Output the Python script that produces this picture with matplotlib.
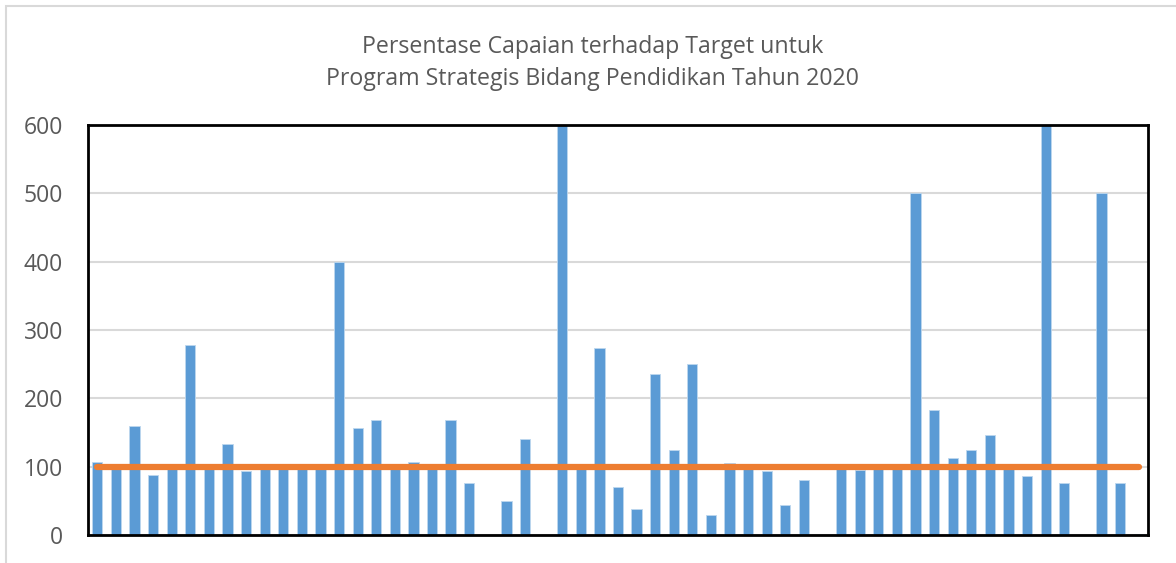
import matplotlib.pyplot as plt
import numpy as np
from matplotlib.patches import Rectangle

# Persentase capaian per program (57 program, beberapa kosong)
program_idx = list(range(1, 58))
capaian = [
    107, 100, 160, 88, 100, 278, 100, 133, 93, 100,
    100, 100, 100, 400, 157, 168, 100, 107, 100, 168,
    76, 0, 50, 140, 0, 600, 99, 273, 70, 38,
    235, 125, 250, 30, 106, 100, 94, 44, 81, 0,
    98, 95, 100, 100, 500, 183, 112, 125, 147, 100,
    86, 600, 76, 0, 500, 76, 2,
]
target = [100] * len(program_idx)
y_ticks = [0, 100, 200, 300, 400, 500, 600]

plt.rcParams['font.family'] = ['Open Sans', 'DejaVu Sans']

fig = plt.figure(figsize=(11.76, 5.63), dpi=100)
ax = fig.add_axes([0.0748, 0.0497, 0.9014, 0.7283])

x = np.arange(len(program_idx))
ax.bar(x, capaian, width=0.55, color='#5B9BD5', edgecolor='#BDD7EE',
       linewidth=0.6, zorder=2)
ax.plot(x, target, color='#ED7D31', linewidth=4.5, solid_capstyle='round',
        zorder=3)

ax.set_xlim(-0.5, len(program_idx) - 0.5)
ax.set_ylim(0, 600)
ax.set_yticks(y_ticks)
ax.set_xticks([])
ax.yaxis.grid(True, color='#D9D9D9', linewidth=1.5, zorder=0)
ax.set_axisbelow(True)
ax.tick_params(axis='y', length=0, pad=18, labelsize=16.5, labelcolor='#595959')

for s in ax.spines.values():
    s.set_color('black')
    s.set_linewidth(2)

fig.text(0.504, 0.917, 'Persentase Capaian terhadap Target untuk',
         ha='center', va='center', fontsize=16.7, color='#595959')
fig.text(0.504, 0.860, 'Program Strategis Bidang Pendidikan Tahun 2020',
         ha='center', va='center', fontsize=16.7, color='#595959')

# bingkai luar chart
fig.patches.append(Rectangle((0.005, -0.01), 1.2, 1.0, transform=fig.transFigure,
                             fill=False, edgecolor='#D9D9D9', linewidth=1.5))

fig.savefig('out.png', dpi=100)
